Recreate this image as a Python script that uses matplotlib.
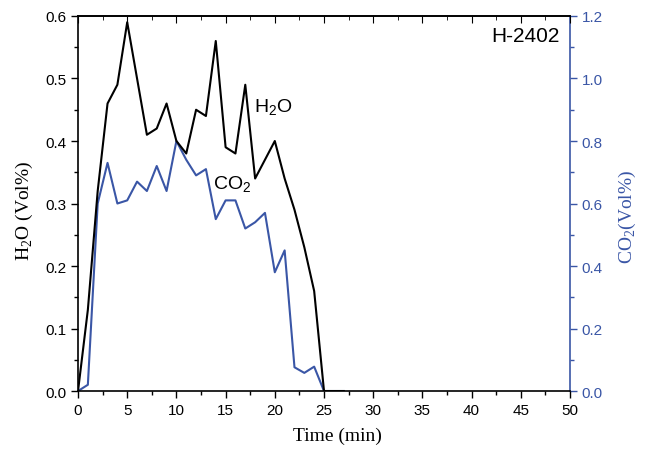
import matplotlib
import matplotlib.pyplot as plt
from matplotlib.ticker import MultipleLocator, FormatStrFormatter

matplotlib.use("Agg")

BLUE = "#3a56a6"

time_min = list(range(0, 28))
h2o = [0.0, 0.13, 0.32, 0.46, 0.49, 0.59, 0.50, 0.41, 0.42, 0.46,
       0.40, 0.38, 0.45, 0.44, 0.56, 0.39, 0.38, 0.49, 0.34, 0.37,
       0.40, 0.34, 0.29, 0.23, 0.16, 0.0, 0.0, 0.0]
co2 = [0.0, 0.02, 0.60, 0.73, 0.60, 0.61, 0.67, 0.64, 0.72, 0.64,
       0.80, 0.74, 0.69, 0.71, 0.55, 0.61, 0.61, 0.52, 0.54, 0.57,
       0.38, 0.45, 0.076, 0.058, 0.078, 0.0, 0.0, 0.0]

plt.rcParams["font.family"] = ["Liberation Sans", "DejaVu Sans"]
plt.rcParams["mathtext.fontset"] = "custom"
plt.rcParams["mathtext.rm"] = "Liberation Sans"

fig = plt.figure(figsize=(6.48, 4.52), dpi=100)
ax = fig.add_axes([0.1204, 0.1327, 0.7592, 0.8297])
ax2 = ax.twinx()

ax.plot(time_min, h2o, color="black", lw=1.5, zorder=3)
ax2.plot(time_min, co2, color=BLUE, lw=1.5)
ax.set_zorder(ax2.get_zorder() + 1)
ax.patch.set_visible(False)

ax.set_xlim(0, 50)
ax.set_ylim(0, 0.6)
ax2.set_ylim(0, 1.2)

ax.xaxis.set_major_locator(MultipleLocator(5))
ax.xaxis.set_minor_locator(MultipleLocator(2.5))
ax.yaxis.set_major_locator(MultipleLocator(0.1))
ax.yaxis.set_minor_locator(MultipleLocator(0.05))
ax2.yaxis.set_major_locator(MultipleLocator(0.2))
ax2.yaxis.set_minor_locator(MultipleLocator(0.1))
ax.yaxis.set_major_formatter(FormatStrFormatter("%.1f"))
ax2.yaxis.set_major_formatter(FormatStrFormatter("%.1f"))

ax.tick_params(axis="x", which="both", direction="out", top=False, labelsize=11)
ax.tick_params(axis="x", which="major", length=5, width=1)
ax.tick_params(axis="x", which="minor", length=3, width=1)
ax.tick_params(axis="y", which="major", direction="out", length=5, width=1, labelsize=11)
ax.tick_params(axis="y", which="minor", direction="out", length=3, width=1)
ax2.tick_params(axis="y", which="major", direction="out", length=5, width=1,
                colors=BLUE, labelsize=11)
ax2.tick_params(axis="y", which="minor", direction="out", length=3, width=1, colors=BLUE)

# top spine ticks point inward
secx = ax.secondary_xaxis("top")
secx.xaxis.set_major_locator(MultipleLocator(5))
secx.xaxis.set_minor_locator(MultipleLocator(2.5))
secx.tick_params(which="both", direction="in", labeltop=False)
secx.tick_params(which="major", length=5)
secx.tick_params(which="minor", length=3)
secx.spines["top"].set_linewidth(1.2)

for s in ax.spines.values():
    s.set_linewidth(1.2)
ax2.spines["right"].set_color(BLUE)
ax2.spines["right"].set_linewidth(1.2)
ax.spines["right"].set_visible(False)
for name in ("left", "top", "bottom"):
    ax2.spines[name].set_visible(False)

serif = ["Liberation Serif", "DejaVu Serif"]
ax.set_xlabel("Time (min)", family=serif, fontsize=14)
ax.xaxis.set_label_coords(0.527, -0.095)
ax.set_ylabel(r"H$_{\mathregular{2}}$O (Vol%)", family=serif, fontsize=14)
ax.yaxis.set_label_coords(-0.088, 0.483)
ax2.set_ylabel(r"CO$_{\mathregular{2}}$(Vol%)", family=serif, fontsize=14, color=BLUE)
ax2.yaxis.set_label_coords(1.095, 0.468)

ax.text(0.978, 0.933, "H-2402", transform=ax.transAxes, ha="right", va="baseline", fontsize=15)
ax.text(17.9, 0.454, r"H$_{\mathregular{2}}$O", fontsize=14, ha="left", va="center")
ax.text(13.7, 0.331, r"CO$_{\mathregular{2}}$", fontsize=14, ha="left", va="center")

fig.savefig("out.png", dpi=100)
